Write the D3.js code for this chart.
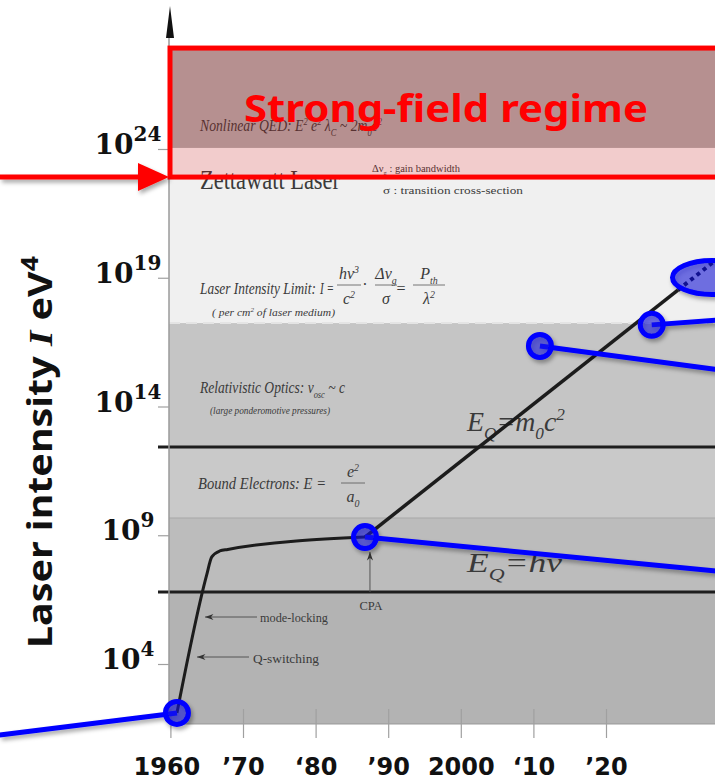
<!DOCTYPE html>
<html>
<head>
<meta charset="utf-8">
<script src="https://cdn.jsdelivr.net/npm/d3@7"></script>
<style>
  body { margin: 0; background: #fff; }
  svg { display: block; }
  .scan { font-family: "Liberation Serif", "Times New Roman", serif; fill: #3a3a3a; }
  .scan-i { font-style: italic; }
  .axis-x text { font-family: "DejaVu Sans", sans-serif; font-weight: bold; font-size: 24px; fill: #111; }
  .axis-x line, .axis-y line { stroke: #a0a0a0; stroke-width: 1.2; }
  .ytick { font-family: "DejaVu Serif", serif; font-weight: bold; fill: #111; }
</style>
</head>
<body>
<svg id="chart" width="715" height="781"></svg>
<script>
// ---- data (years, log10 of intensity) ----
const decadeTicks = [1960, 1970, 1980, 1990, 2000, 2010, 2020];
const decadeLabels = ["1960", "\u201970", "\u201880", "\u201990", "2000", "\u201810", "\u201920"];
const intensityTicks = [4, 9, 14, 19, 24];

// boundaries of the regimes of the original figure, top to bottom
const regimeEdges = [28.0, 24.04, 17.24, 12.43, 9.67, 6.80, 1.67];
const laserLimitLogI = 17.24;
const quantumLines = [12.43, 6.80];           // E_Q = m0c^2, E_Q = h nu
const strongField = [27.92, 22.91];           // red box, top and bottom

// laser intensity history curve
const historyYears = [1960.9, 1965.0, 1965.7, 1966.8, 1967.9, 1986.8];
const historyLogI = [2.10, 7.46, 8.16, 8.39, 8.45, 8.93];
const trendYears = [1986.8, 2029.9];
const trendLogI = [8.93, 18.52];
const futureYears = [2029.9, 2035.5];
const futureLogI = [18.52, 19.77];

// blue highlight markers and their callout lines
const markerYears = [1960.9, 1986.8, 2010.9, 2026.3];
const markerLogI = [2.10, 8.93, 16.35, 17.17];
const calloutYears = [1936.5, 2035.5, 2035.5, 2035.5];
const calloutLogI = [1.24, 7.60, 15.43, 17.36];
const zettaYear = 2034.6;
const zettaLogI = 19.01;

// ---- layout ----
const svg = d3.select("#chart");
const plotLeft = 169, plotRight = 715;

const x = d3.scaleLinear().domain([1960, 2020]).range([170.4, 606]);
const y = d3.scaleLog().domain([1e4, 1e24]).range([664, 149]);
const yl = v => y(Math.pow(10, v));

const defs = svg.append("defs");
const shadow = defs.append("filter").attr("id", "shadow")
  .attr("x", "-20%").attr("y", "-20%").attr("width", "140%").attr("height", "160%");
shadow.append("feDropShadow").attr("dx", 2).attr("dy", 3).attr("stdDeviation", 2)
  .attr("flood-color", "#000").attr("flood-opacity", 0.35);

// regime bands
const bandColors = ["#aaaaaa", "#f0f0f0", "#c5c5c5", "#c9c9c9", "#bcbcbc", "#b3b3b3"];
svg.append("g").selectAll("rect")
  .data(d3.pairs(regimeEdges))
  .join("rect")
  .attr("x", plotLeft)
  .attr("y", d => yl(d[0]))
  .attr("width", plotRight - plotLeft)
  .attr("height", d => yl(d[1]) - yl(d[0]))
  .attr("fill", (d, i) => bandColors[i]);

svg.append("line")
  .attr("x1", plotLeft).attr("x2", plotRight)
  .attr("y1", yl(regimeEdges[4])).attr("y2", yl(regimeEdges[4]))
  .attr("stroke", "#a8a8a8").attr("stroke-width", 1);

svg.append("line")
  .attr("x1", plotLeft).attr("x2", plotRight)
  .attr("y1", yl(laserLimitLogI)).attr("y2", yl(laserLimitLogI))
  .attr("stroke", "#e4e4e4").attr("stroke-width", 2)
  .attr("stroke-dasharray", "11 6");

svg.append("g").selectAll("line")
  .data(quantumLines)
  .join("line")
  .attr("x1", 158).attr("x2", plotRight)
  .attr("y1", d => yl(d)).attr("y2", d => yl(d))
  .attr("stroke", "#1e1e1e").attr("stroke-width", 3);

// axes
svg.append("line")
  .attr("x1", plotLeft).attr("x2", plotLeft)
  .attr("y1", 36).attr("y2", yl(regimeEdges[6]))
  .attr("stroke", "#9a9a9a").attr("stroke-width", 1.5);
svg.append("path")
  .attr("d", `M${plotLeft + 1},6 L${plotLeft - 3},38 L${plotLeft + 5},38 Z`)
  .attr("fill", "#111");
svg.append("line")
  .attr("x1", plotLeft).attr("x2", plotRight)
  .attr("y1", yl(regimeEdges[6])).attr("y2", yl(regimeEdges[6]))
  .attr("stroke", "#999").attr("stroke-width", 1);

svg.append("g")
  .attr("class", "axis-y")
  .attr("transform", `translate(${plotLeft},0)`)
  .call(d3.axisLeft(y).tickValues(intensityTicks.map(v => Math.pow(10, v))).tickSize(11).tickFormat(""))
  .call(g => g.select(".domain").remove());

const yLabels = svg.append("g").selectAll("text")
  .data(intensityTicks)
  .join("text")
  .attr("class", "ytick")
  .attr("x", 128)
  .attr("y", d => yl(d) + 5)
  .attr("text-anchor", "middle")
  .attr("font-size", 28);
yLabels.append("tspan").text("10");
yLabels.append("tspan").attr("font-size", 20).attr("dy", -13).text(d => d);

svg.append("g")
  .attr("class", "axis-x")
  .attr("transform", `translate(0,${yl(regimeEdges[6]) + 14})`)
  .call(d3.axisBottom(x).tickValues(decadeTicks).tickSize(-29).tickPadding(20)
    .tickFormat((d, i) => decadeLabels[i]))
  .call(g => g.select(".domain").remove())
  .call(g => g.selectAll(".tick text").attr("dx", (d, i) => i === 0 ? -4 : 0));

// ---- scanned figure texts ----
function scanText(px, py, size, opts, runs) {
  const t = svg.append("text")
    .attr("class", "scan" + (opts.italic ? " scan-i" : ""))
    .attr("x", px).attr("y", py)
    .attr("font-size", size)
    .attr("text-anchor", opts.anchor || "start");
  if (opts.width) t.attr("textLength", opts.width).attr("lengthAdjust", "spacingAndGlyphs");
  let shift = 0;
  runs.forEach(r => {
    const [txt, kind] = Array.isArray(r) ? r : [r, ""];
    const target = kind === "sub" ? size * 0.3 : kind === "sup" ? -size * 0.38 : 0;
    t.append("tspan")
      .attr("dy", target - shift)
      .attr("font-size", kind ? size * 0.62 : size)
      .text(txt);
    shift = target;
  });
  return t;
}
function fraction(cx, lineY, size, top, bottom, half) {
  scanText(cx, lineY - 6, size, { italic: true, anchor: "middle" }, top);
  scanText(cx, lineY + size + 3, size, { italic: true, anchor: "middle" }, bottom);
  svg.append("line").attr("x1", cx - half).attr("x2", cx + half)
    .attr("y1", lineY).attr("y2", lineY)
    .attr("stroke", "#555").attr("stroke-width", 0.8);
}

scanText(200, 131, 17, { italic: true, width: 182 },
  ["Nonlinear QED:  E", ["2", "sup"], " e", ["2", "sup"], " \u03bb", ["C", "sub"], " ~ 2m", ["0", "sub"], "c", ["2", "sup"]]);
scanText(200, 189, 28, { width: 140 }, ["Zettawatt Laser"]);
scanText(372, 172, 10.5, { width: 88 }, ["\u0394\u03bd", ["g", "sub"], " : gain bandwidth"]);
scanText(383, 194, 10.5, { width: 140 }, ["\u03c3  : transition cross-section"]);

scanText(200, 294, 17, { italic: true, width: 116 }, ["Laser Intensity Limit:"]);
scanText(320, 294, 17, { italic: true, width: 14 }, ["I ="]);
fraction(349, 285, 16, ["h\u03bd", ["3", "sup"]], ["c", ["2", "sup"]], 12);
scanText(365, 290, 16, { anchor: "middle" }, ["\u00b7"]);
fraction(386, 285, 16, ["\u0394\u03bd", ["g", "sub"]], ["\u03c3"], 11);
scanText(401, 294, 16, { anchor: "middle" }, ["="]);
fraction(429, 285, 16, ["P", ["th", "sub"]], ["\u03bb", ["2", "sup"]], 16);
scanText(212, 316, 11, { italic: true, width: 123 }, ["( per cm", ["2", "sup"], " of laser medium)"]);

scanText(200, 393, 17, { italic: true, width: 145 }, ["Relativistic Optics:  v", ["osc", "sub"], " ~ c"]);
scanText(210, 414, 11, { italic: true, width: 120 }, ["(large ponderomotive pressures)"]);
scanText(467, 431, 28, { italic: true, width: 98 }, ["E", ["Q", "sub"], "=m", ["0", "sub"], "c", ["2", "sup"]]);

scanText(198, 489, 17, { italic: true, width: 128 }, ["Bound Electrons:  E ="]);
fraction(353, 483, 16, ["e", ["2", "sup"]], ["a", ["0", "sub"]], 12);
scanText(467, 572, 28, { italic: true, width: 95 }, ["E", ["Q", "sub"], "=h\u03bd"]);

scanText(371, 610, 12.5, { anchor: "middle" }, ["CPA"]);
scanText(260, 622, 13, { width: 68 }, ["mode-locking"]);
scanText(253, 663, 13, { width: 66 }, ["Q-switching"]);

function arrowLine(x1, y1, x2, y2) {
  svg.append("line").attr("x1", x1).attr("y1", y1).attr("x2", x2).attr("y2", y2)
    .attr("stroke", "#555").attr("stroke-width", 1);
  const a = Math.atan2(y2 - y1, x2 - x1);
  const p = (r, da) => [x2 - r * Math.cos(a + da), y2 - r * Math.sin(a + da)];
  svg.append("path")
    .attr("d", `M${x2},${y2} L${p(9, 0.35)} L${p(6, 0)} L${p(9, -0.35)} Z`)
    .attr("fill", "#333");
}
const cpaX = x(markerYears[1]) + 5;
arrowLine(cpaX, 592, cpaX, 552);
arrowLine(257, 617, 205, 617);
arrowLine(249, 657, 197, 657);

// ---- intensity history ----
svg.append("path")
  .datum(d3.zip(historyYears, historyLogI))
  .attr("d", d3.line().x(d => x(d[0])).y(d => yl(d[1])).curve(d3.curveMonotoneX))
  .attr("fill", "none").attr("stroke", "#1c1c1c").attr("stroke-width", 3);
svg.append("path")
  .datum(d3.zip(trendYears, trendLogI))
  .attr("d", d3.line().x(d => x(d[0])).y(d => yl(d[1])))
  .attr("fill", "none").attr("stroke", "#1c1c1c").attr("stroke-width", 3.5);
svg.append("path")
  .datum(d3.zip(futureYears, futureLogI))
  .attr("d", d3.line().x(d => x(d[0])).y(d => yl(d[1])))
  .attr("fill", "none").attr("stroke", "#101030").attr("stroke-width", 4)
  .attr("stroke-dasharray", "4 4");

// ---- strong-field overlay ----
svg.append("rect")
  .attr("x", plotLeft + 1)
  .attr("y", yl(strongField[0]))
  .attr("width", 700)
  .attr("height", yl(strongField[1]) - yl(strongField[0]))
  .attr("fill", "rgba(255,0,0,0.15)")
  .attr("stroke", "#ff0000").attr("stroke-width", 5);

svg.append("text")
  .attr("x", 446).attr("y", 122)
  .attr("text-anchor", "middle")
  .attr("font-family", "'Noto Sans', 'Open Sans', sans-serif")
  .attr("font-weight", "bold")
  .attr("font-size", 37)
  .attr("textLength", 404).attr("lengthAdjust", "spacingAndGlyphs")
  .attr("fill", "#ff0000")
  .text("Strong-field regime");

const redArrow = svg.append("g").attr("filter", "url(#shadow)");
redArrow.append("line")
  .attr("x1", 0).attr("x2", 142)
  .attr("y1", yl(strongField[1])).attr("y2", yl(strongField[1]))
  .attr("stroke", "#ff0000").attr("stroke-width", 5);
redArrow.append("path")
  .attr("d", `M138,${yl(strongField[1]) - 14} L${plotLeft},${yl(strongField[1])} L138,${yl(strongField[1]) + 14} Z`)
  .attr("fill", "#ff0000");

// ---- blue highlights ----
const blue = svg.append("g").attr("filter", "url(#shadow)");
blue.selectAll("line")
  .data(d3.range(markerYears.length))
  .join("line")
  .attr("x1", i => x(markerYears[i])).attr("y1", i => yl(markerLogI[i]))
  .attr("x2", i => x(calloutYears[i])).attr("y2", i => yl(calloutLogI[i]))
  .attr("stroke", "#0000ff").attr("stroke-width", 5);
blue.selectAll("circle")
  .data(d3.range(markerYears.length))
  .join("circle")
  .attr("cx", i => x(markerYears[i])).attr("cy", i => yl(markerLogI[i]))
  .attr("r", 11.5)
  .attr("fill", "rgba(20,20,230,0.5)")
  .attr("stroke", "#0000ff").attr("stroke-width", 5);
blue.append("ellipse")
  .attr("cx", x(zettaYear)).attr("cy", yl(zettaLogI))
  .attr("rx", 39.5).attr("ry", 17)
  .attr("fill", "rgba(20,20,230,0.5)")
  .attr("stroke", "#0000ff").attr("stroke-width", 5);

// ---- y axis title ----
const title = svg.append("text")
  .attr("transform", "translate(52,452) rotate(-90)")
  .attr("text-anchor", "middle")
  .attr("font-family", "'Noto Sans', 'Open Sans', sans-serif")
  .attr("font-weight", "bold")
  .attr("font-size", 34)
  .attr("textLength", 392).attr("lengthAdjust", "spacingAndGlyphs")
  .attr("fill", "#111");
title.append("tspan").text("Laser intensity ");
title.append("tspan").attr("font-family", "'Liberation Serif', serif").attr("font-style", "italic").text("I");
title.append("tspan").text(" eV");
title.append("tspan").attr("font-size", 23).attr("dy", -14).text("4");
</script>
</body>
</html>
